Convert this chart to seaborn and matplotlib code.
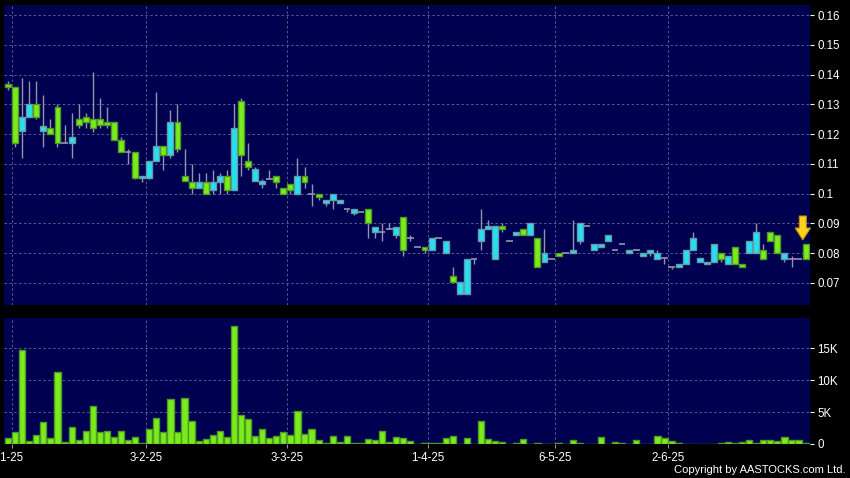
import matplotlib
matplotlib.use("Agg")
import matplotlib.pyplot as plt
import matplotlib.transforms as mtransforms
import seaborn as sns
import numpy as np
import pandas as pd

# ---------------- data ----------------
opens = [0.137,0.136,0.121,0.1257,0.130,0.121,0.122,0.129,0.117,0.117,
         0.125,0.1257,0.125,0.125,0.124,0.124,0.118,0.114,0.114,0.1053,
         0.1053,0.111,0.116,0.113,0.124,0.106,0.104,0.102,0.104,0.1013,
         0.104,0.106,0.1013,0.131,0.111,0.1043,0.1033,0.105,0.106,0.102,
         0.1033,0.100,0.106,0.100,0.100,0.097,0.098,0.097,0.095,0.0935,
         0.094,0.095,0.087,0.087,0.088,0.086,0.092,0.085,0.082,0.082,
         0.081,0.085,0.080,0.0723,0.0663,0.0663,0.078,0.084,0.088,0.078,
         0.089,0.084,0.086,0.088,0.086,0.085,0.077,0.078,0.080,0.080,
         0.080,0.084,0.089,0.081,0.082,0.084,0.081,0.083,0.080,0.081,
         0.079,0.080,0.078,0.0784,0.0754,0.0754,0.0764,0.081,0.077,0.0764,
         0.077,0.080,0.0764,0.082,0.0764,0.080,0.080,0.081,0.087,0.086,
         0.078,0.078,0.078,0.083]
highs = [0.138,0.136,0.139,0.138,0.138,0.133,0.125,0.130,0.123,0.127,
         0.130,0.127,0.141,0.132,0.129,0.124,0.119,0.115,0.114,0.106,
         0.111,0.134,0.116,0.128,0.130,0.115,0.110,0.107,0.107,0.108,
         0.107,0.108,0.130,0.132,0.117,0.109,0.105,0.108,0.106,0.102,
         0.1033,0.112,0.109,0.1033,0.100,0.098,0.100,0.098,0.095,0.095,
         0.094,0.095,0.0887,0.090,0.090,0.0887,0.092,0.086,0.082,0.082,
         0.085,0.085,0.084,0.0754,0.0703,0.078,0.078,0.095,0.091,0.089,
         0.090,0.084,0.087,0.088,0.090,0.085,0.088,0.078,0.080,0.080,
         0.091,0.090,0.089,0.083,0.083,0.086,0.081,0.083,0.081,0.0815,
         0.080,0.081,0.081,0.0784,0.0754,0.0764,0.081,0.087,0.0784,0.077,
         0.083,0.080,0.079,0.082,0.0764,0.084,0.090,0.083,0.087,0.086,
         0.080,0.079,0.078,0.083]
lows = [0.135,0.1157,0.112,0.1257,0.125,0.1157,0.120,0.1157,0.117,0.112,
        0.122,0.122,0.1207,0.122,0.122,0.118,0.114,0.110,0.105,0.104,
        0.105,0.111,0.108,0.112,0.114,0.1043,0.100,0.102,0.100,0.100,
        0.100,0.100,0.1013,0.106,0.108,0.1043,0.102,0.105,0.102,0.100,
        0.100,0.100,0.102,0.0958,0.098,0.096,0.095,0.097,0.094,0.093,
        0.094,0.085,0.085,0.084,0.088,0.085,0.079,0.084,0.082,0.080,
        0.081,0.085,0.080,0.0703,0.0663,0.0663,0.0764,0.081,0.088,0.078,
        0.087,0.084,0.086,0.086,0.086,0.0755,0.077,0.078,0.079,0.080,
        0.080,0.083,0.089,0.081,0.082,0.084,0.081,0.083,0.080,0.081,
        0.079,0.079,0.078,0.0764,0.0748,0.0754,0.0764,0.081,0.077,0.0764,
        0.077,0.077,0.0764,0.0764,0.0754,0.080,0.080,0.078,0.084,0.080,
        0.077,0.0754,0.078,0.078]
closes = [0.136,0.117,0.1257,0.130,0.1257,0.1227,0.120,0.117,0.117,0.119,
          0.123,0.124,0.122,0.123,0.123,0.118,0.114,0.114,0.1053,0.106,
          0.111,0.116,0.113,0.124,0.115,0.1043,0.102,0.104,0.100,0.104,
          0.106,0.1013,0.122,0.113,0.109,0.1083,0.1043,0.105,0.104,0.100,
          0.1013,0.106,0.104,0.100,0.099,0.098,0.100,0.098,0.095,0.095,
          0.094,0.090,0.0887,0.087,0.088,0.0887,0.081,0.085,0.082,0.081,
          0.085,0.085,0.084,0.0703,0.0703,0.078,0.078,0.088,0.089,0.089,
          0.088,0.084,0.087,0.086,0.090,0.0755,0.080,0.078,0.079,0.080,
          0.081,0.090,0.089,0.083,0.083,0.086,0.081,0.083,0.081,0.081,
          0.080,0.081,0.080,0.0784,0.0754,0.0764,0.081,0.085,0.0784,0.077,
          0.083,0.078,0.079,0.0764,0.0754,0.084,0.087,0.078,0.084,0.080,
          0.080,0.078,0.078,0.078]
volumes_k = [1.0,1.8,14.7,0.5,1.35,3.4,0.95,11.3,0.25,2.65,
             0.6,2.1,6.0,1.9,2.0,1.15,2.0,0.6,1.15,0.1,
             2.35,4.0,1.8,7.1,1.9,7.25,3.65,0.5,0.75,1.45,
             2.0,1.15,18.4,4.5,3.9,1.3,2.35,0.9,1.25,1.9,
             1.45,5.2,1.55,2.35,0.6,0.2,1.2,0.35,1.2,0.15,
             0.15,0.85,0.55,2.0,0.35,1.1,0.95,0.45,0.05,0.15,
             0.15,0.1,0.95,1.3,0.05,1.0,0.05,3.6,0.8,0.45,
             0.35,0.05,0.2,0.8,0.05,0.15,0.05,0.05,0.15,0.05,
             0.7,0.15,0.05,0.05,1.05,0.05,0.3,0.1,0.05,0.55,
             0.05,0.05,1.25,0.9,0.5,0.1,0.05,0.05,0.05,0.05,
             0.05,0.2,0.25,0.15,0.35,0.55,0.1,0.6,0.6,0.4,
             1.05,0.7,0.55,0.2]

date_labels = ["2-1-25", "3-2-25", "3-3-25", "1-4-25", "6-5-25", "2-6-25"]
date_index = [1, 20, 40, 60, 78, 94]
price_ticks = [0.07, 0.08, 0.09, 0.10, 0.11, 0.12, 0.13, 0.14, 0.15, 0.16]
price_tick_labels = ["0.07", "0.08", "0.09", "0.1", "0.11", "0.12", "0.13", "0.14", "0.15", "0.16"]
vol_ticks = [0, 5000, 10000, 15000]
vol_tick_labels = ["0", "5K", "10K", "15K"]

# ---------------- styling ----------------
BG = "black"
PANEL = "#000050"
GRID = "#5a5a92"
GREEN = "#7aec1c"
GREEN_EDGE = "#4f9a22"
CYAN = "#22e2f2"
CYAN_EDGE = "#6a98a8"
WICK = "#9494ac"

sns.set_theme(style="dark", rc={"axes.facecolor": PANEL, "figure.facecolor": BG})
plt.rcParams["font.family"] = ["Liberation Sans", "DejaVu Sans"]

df = pd.DataFrame({"open": opens, "high": highs, "low": lows,
                   "close": closes, "volume": np.array(volumes_k) * 1000})
df["idx"] = np.arange(len(df))

fig = plt.figure(figsize=(8.5, 4.78), dpi=100, facecolor=BG)
W, H = 850.0, 478.0
ax = fig.add_axes([4 / W, 1 - 305 / H, 806 / W, 300 / H])
axv = fig.add_axes([4 / W, 1 - 444 / H, 806 / W, 126 / H])

xlim = (-0.58, 113.62)
grid_x = [i - 0.5 for i in date_index]

for a in (ax, axv):
    a.set_facecolor(PANEL)
    for s in a.spines.values():
        s.set_visible(False)
    a.grid(False)

# ---------------- price candles ----------------
up = df[df.close > df.open]
down = df[df.close < df.open]
flat = df[df.close == df.open]

ax.vlines(df.idx, df.low, df.high, color=WICK, linewidth=1.0, zorder=2)
ax.bar(up.idx, up.close - up.open, bottom=up.open, width=0.84,
       color=CYAN, edgecolor=CYAN_EDGE, linewidth=1.0, zorder=3)
ax.bar(down.idx, down.open - down.close, bottom=down.close, width=0.84,
       color=GREEN, edgecolor=GREEN_EDGE, linewidth=1.0, zorder=3)
ax.hlines(flat.close, flat.idx - 0.47, flat.idx + 0.47, color=WICK, linewidth=1.2, zorder=3)

ax.set_xlim(*xlim)
ax.set_ylim(0.0626, 0.1634)
ax.set_yticks(price_ticks)
ax.set_yticklabels(price_tick_labels)
ax.set_xticks(grid_x)
ax.yaxis.tick_right()
ax.tick_params(axis="y", colors="white", labelcolor="white", labelsize=8.3,
               length=3, width=0.8, pad=2.5, right=True, left=False)
ax.tick_params(axis="x", length=0, labelbottom=False, bottom=False)
for y in price_ticks:
    ax.axhline(y, color=GRID, linestyle=(0, (2.5, 2.5)), linewidth=0.7, zorder=1)
for x in grid_x:
    ax.axvline(x, color=GRID, linestyle=(0, (2.5, 2.5)), linewidth=0.7, zorder=1)

# latest-price marker arrow
ax.annotate("", xy=(112.6, 0.0845), xytext=(112.6, 0.0925),
            arrowprops=dict(arrowstyle="simple,head_length=0.85,head_width=1.1,tail_width=0.5",
                            mutation_scale=10, fc="#ffd21f", ec="#c89400", lw=0.8,
                            shrinkA=0, shrinkB=0), zorder=5)

# ---------------- volume ----------------
sns.barplot(data=df, x="idx", y="volume", native_scale=True, ax=axv,
            color=GREEN, edgecolor=GREEN_EDGE, linewidth=1.0, width=0.88,
            saturation=1, errorbar=None, zorder=3)
axv.set_xlim(*xlim)
axv.set_ylim(0, 19700)
axv.set_xlabel("")
axv.set_ylabel("")
axv.set_yticks(vol_ticks)
axv.set_yticklabels(vol_tick_labels)
axv.set_xticks(grid_x)
axv.set_xticklabels(date_labels)
axv.yaxis.tick_right()
axv.tick_params(axis="y", colors="white", labelcolor="white", labelsize=8.3,
                length=3, width=0.8, pad=2.5, right=True, left=False)
axv.tick_params(axis="x", colors="#9090a0", labelcolor="white", labelsize=8.3,
                length=3, width=0.8, pad=3, bottom=True)
# the first date label sits partly off the left edge, as in the reference
first = axv.get_xticklabels()[0]
first.set_transform(first.get_transform() +
                    mtransforms.ScaledTranslation(-5 / 100, 0, fig.dpi_scale_trans))
for y in vol_ticks[1:]:
    axv.axhline(y, color=GRID, linestyle=(0, (2.5, 2.5)), linewidth=0.7, zorder=1)
for x in grid_x:
    axv.axvline(x, color=GRID, linestyle=(0, (2.5, 2.5)), linewidth=0.7, zorder=1)

fig.text(845 / W, 3 / H, "Copyright by AASTOCKS.com Ltd.", color="white",
         fontsize=8, ha="right", va="bottom")

fig.savefig("out.png", dpi=100, facecolor=BG)
